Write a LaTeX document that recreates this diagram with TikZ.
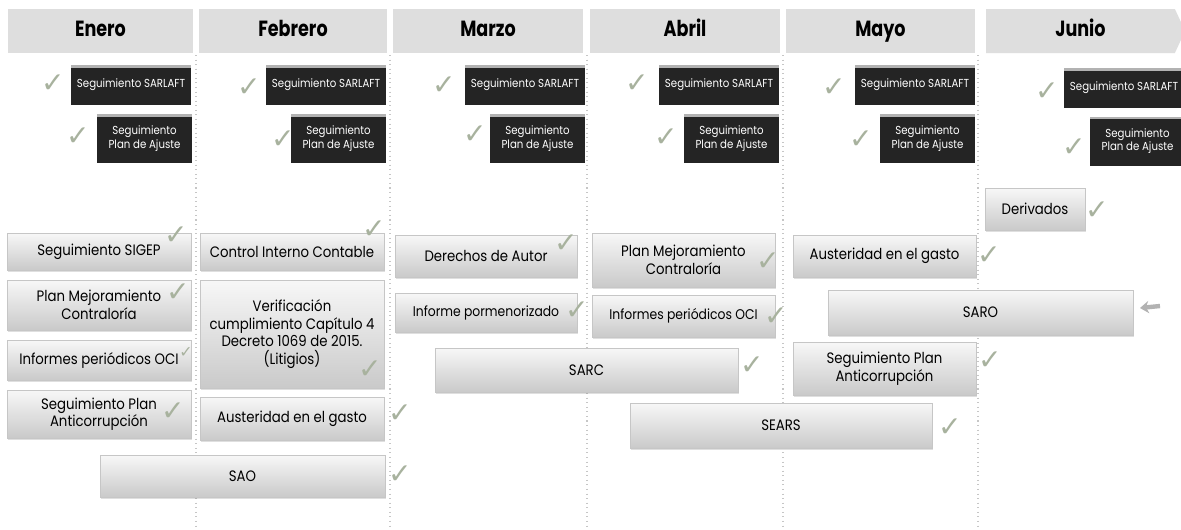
\documentclass[tikz,border=0pt]{standalone}
\usepackage{fontspec}
\setmainfont{Poppins}
\newfontfamily\headfont{Poppins}[FakeStretch=0.8]
\newfontfamily\boxfont{Poppins}[FakeStretch=0.88]
\newfontfamily\symfont{DejaVu Sans}
\usetikzlibrary{shapes.symbols,shadows,arrows.meta}
\definecolor{headgray}{RGB}{222,222,222}
\definecolor{tickgray}{RGB}{168,178,158}
\definecolor{darkfill}{RGB}{36,36,36}
\tikzset{
  sz/.style 2 args={minimum width=#1*0.02cm, minimum height=#2*0.02cm},
  monthhead/.style={fill=headgray, inner sep=0pt, text height=9pt, text depth=2.5pt,
    font=\headfont\bfseries\fontsize{12.5}{13}\selectfont},
  darkbox/.style={fill=darkfill, text=white, inner sep=1pt, align=center,
    font=\boxfont\fontsize{6.6}{7.6}\selectfont,
    path picture={\fill[gray!60] (path picture bounding box.north west) rectangle ([yshift=-1.5pt]path picture bounding box.north east);}},
  litebox/.style={draw=gray!45, top color=gray!6, bottom color=gray!42,
    drop shadow={opacity=0.25,shadow xshift=0.8pt,shadow yshift=-1.2pt},
    inner sep=1pt, align=center, font=\boxfont\fontsize{8.6}{10}\selectfont},
  smalltext/.style={font=\boxfont\fontsize{8}{10}\selectfont},
  okmark/.style={text=tickgray, inner sep=0pt, font=\symfont\fontsize{16}{16}\selectfont},
  colsep/.style={gray!45, dotted, line width=0.6pt}
}
\begin{document}
\begin{tikzpicture}[x=0.02cm, y=-0.02cm]
\clip (0,0) rectangle (1181,529);
\fill[white] (0,0) rectangle (1181,529);
% column separators
\foreach \x in {196,390,587,783,978}
  \draw[colsep] (\x,55) -- (\x,529);
% month headers
\node[monthhead, sz={185}{44}] (hEne) at (100.5,31) {Enero};
\node[monthhead, sz={188}{44}] (hFeb) at (293,31) {Febrero};
\node[monthhead, sz={190}{44}] (hMar) at (488,31) {Marzo};
\node[monthhead, sz={190}{44}] (hAbr) at (685,31) {Abril};
\node[monthhead, sz={189}{44}] (hMay) at (880.5,31) {Mayo};
\node[monthhead, signal, signal to=east, signal pointer angle=130, sz={199}{44}] (hJun) at (1080.5,31) {Junio};
% monthly follow-ups
\node[darkbox, sz={120}{40}] (sarEne) at (131,85) {Seguimiento SARLAFT};
\node[darkbox, sz={95}{49}] (pajEne) at (144.5,138.5) {Seguimiento\\Plan de Ajuste};
\node[darkbox, sz={120}{40}] (sarFeb) at (326,85) {Seguimiento SARLAFT};
\node[darkbox, sz={95}{49}] (pajFeb) at (338.5,138.5) {Seguimiento\\Plan de Ajuste};
\node[darkbox, sz={120}{40}] (sarMar) at (525,85) {Seguimiento SARLAFT};
\node[darkbox, sz={95}{49}] (pajMar) at (537.5,138.5) {Seguimiento\\Plan de Ajuste};
\node[darkbox, sz={120}{40}] (sarAbr) at (719,85) {Seguimiento SARLAFT};
\node[darkbox, sz={95}{49}] (pajAbr) at (731.5,138.5) {Seguimiento\\Plan de Ajuste};
\node[darkbox, sz={120}{40}] (sarMay) at (915,85) {Seguimiento SARLAFT};
\node[darkbox, sz={95}{49}] (pajMay) at (927.5,138.5) {Seguimiento\\Plan de Ajuste};
\node[darkbox, sz={120}{40}] (sarJun) at (1124,88) {Seguimiento SARLAFT};
\node[darkbox, sz={95}{49}] (pajJun) at (1137.5,141) {Seguimiento\\Plan de Ajuste};
\node[okmark] (kSarEne) at (53,84) {✓};
\node[okmark] (kPajEne) at (78,137) {✓};
\node[okmark] (kSarFeb) at (249,88) {✓};
\node[okmark] (kPajFeb) at (283,140) {✓};
\node[okmark] (kSarMar) at (444,86) {✓};
\node[okmark] (kPajMar) at (475,135) {✓};
\node[okmark] (kSarAbr) at (637,84) {✓};
\node[okmark] (kPajAbr) at (666,138) {✓};
\node[okmark] (kSarMay) at (834,88) {✓};
\node[okmark] (kPajMay) at (861,140) {✓};
\node[okmark] (kSarJun) at (1047,92) {✓};
\node[okmark] (kPajJun) at (1074,148) {✓};
% Enero
\node[litebox, sz={184}{37}] (sigEne) at (99,251.5) {Seguimiento SIGEP};
\node[litebox, sz={184}{50}] (pmcEne) at (99,305) {Plan Mejoramiento\\Contraloría};
\node[litebox, sz={184}{40}] (ociEne) at (99,360) {Informes periódicos OCI};
\node[litebox, sz={184}{48}] (pacEne) at (99,414) {Seguimiento Plan\\Anticorrupción};
\node[litebox, sz={285}{42}] (sao) at (242.5,476) {SAO};
% Febrero
\node[litebox, sz={184}{37}] (cicFeb) at (292,251.5) {Control Interno Contable};
\node[litebox, sz={184}{108}] (verFeb) at (292,334) {Verificación\\cumplimiento Capítulo 4\\Decreto 1069 de 2015.\\(Litigios)};
\node[litebox, sz={184}{43}] (ausFeb) at (292,418.5) {Austeridad en el gasto};
% Marzo
\node[litebox, sz={182}{42}] (dauMar) at (486,256) {Derechos de Autor};
\node[litebox, smalltext, sz={182}{39}] (ipoMar) at (486,312.5) {Informe pormenorizado};
\node[litebox, sz={303}{44}] (sarc) at (586.5,370) {SARC};
% Abril
\node[litebox, sz={183}{54}] (pmcAbr) at (683.5,260) {Plan Mejoramiento\\Contraloría};
\node[litebox, smalltext, sz={183}{42}] (ociAbr) at (683.5,316) {Informes periódicos OCI};
\node[litebox, sz={302}{45}] (sears) at (781,425.5) {SEARS};
% Mayo
\node[litebox, sz={183}{42}] (ausMay) at (884.5,256) {Austeridad en el gasto};
\node[litebox, sz={305}{45}] (saro) at (980.5,312.5) {SARO};
\node[litebox, sz={183}{53}] (pacMay) at (884.5,368.5) {Seguimiento Plan\\Anticorrupción};
% Junio
\node[litebox, sz={100}{42}] (derJun) at (1035,209) {Derivados};
% checks
\node[okmark] (kSig) at (176,236) {✓};
\node[okmark] (kPmcEne) at (178,293) {✓};
\node[okmark, font=\symfont\fontsize{9}{9}\selectfont] (kOciEne) at (186,353) {✓};
\node[okmark] (kPacEne) at (173,412) {✓};
\node[okmark] (kSao) at (400,475) {✓};
\node[okmark] (kCic) at (374,230) {✓};
\node[okmark] (kVer) at (370,370) {✓};
\node[okmark] (kAusFeb) at (400,414) {✓};
\node[okmark] (kDau) at (566,244) {✓};
\node[okmark] (kIpo) at (577,311) {✓};
\node[okmark] (kSarc) at (752,366) {✓};
\node[okmark] (kPmcAbr) at (768,262) {✓};
\node[okmark] (kOciAbr) at (776,317) {✓};
\node[okmark] (kSears) at (950,428) {✓};
\node[okmark] (kAusMay) at (989,256) {✓};
\node[okmark] (kPacMay) at (990,361) {✓};
\node[okmark] (kDer) at (1097,211) {✓};
% pending mark next to SARO
\draw[gray!60, line width=2.5pt, -{Stealth[length=5pt,width=7pt]}] (1160,306) -- (1140,308);
\end{tikzpicture}
\end{document}
